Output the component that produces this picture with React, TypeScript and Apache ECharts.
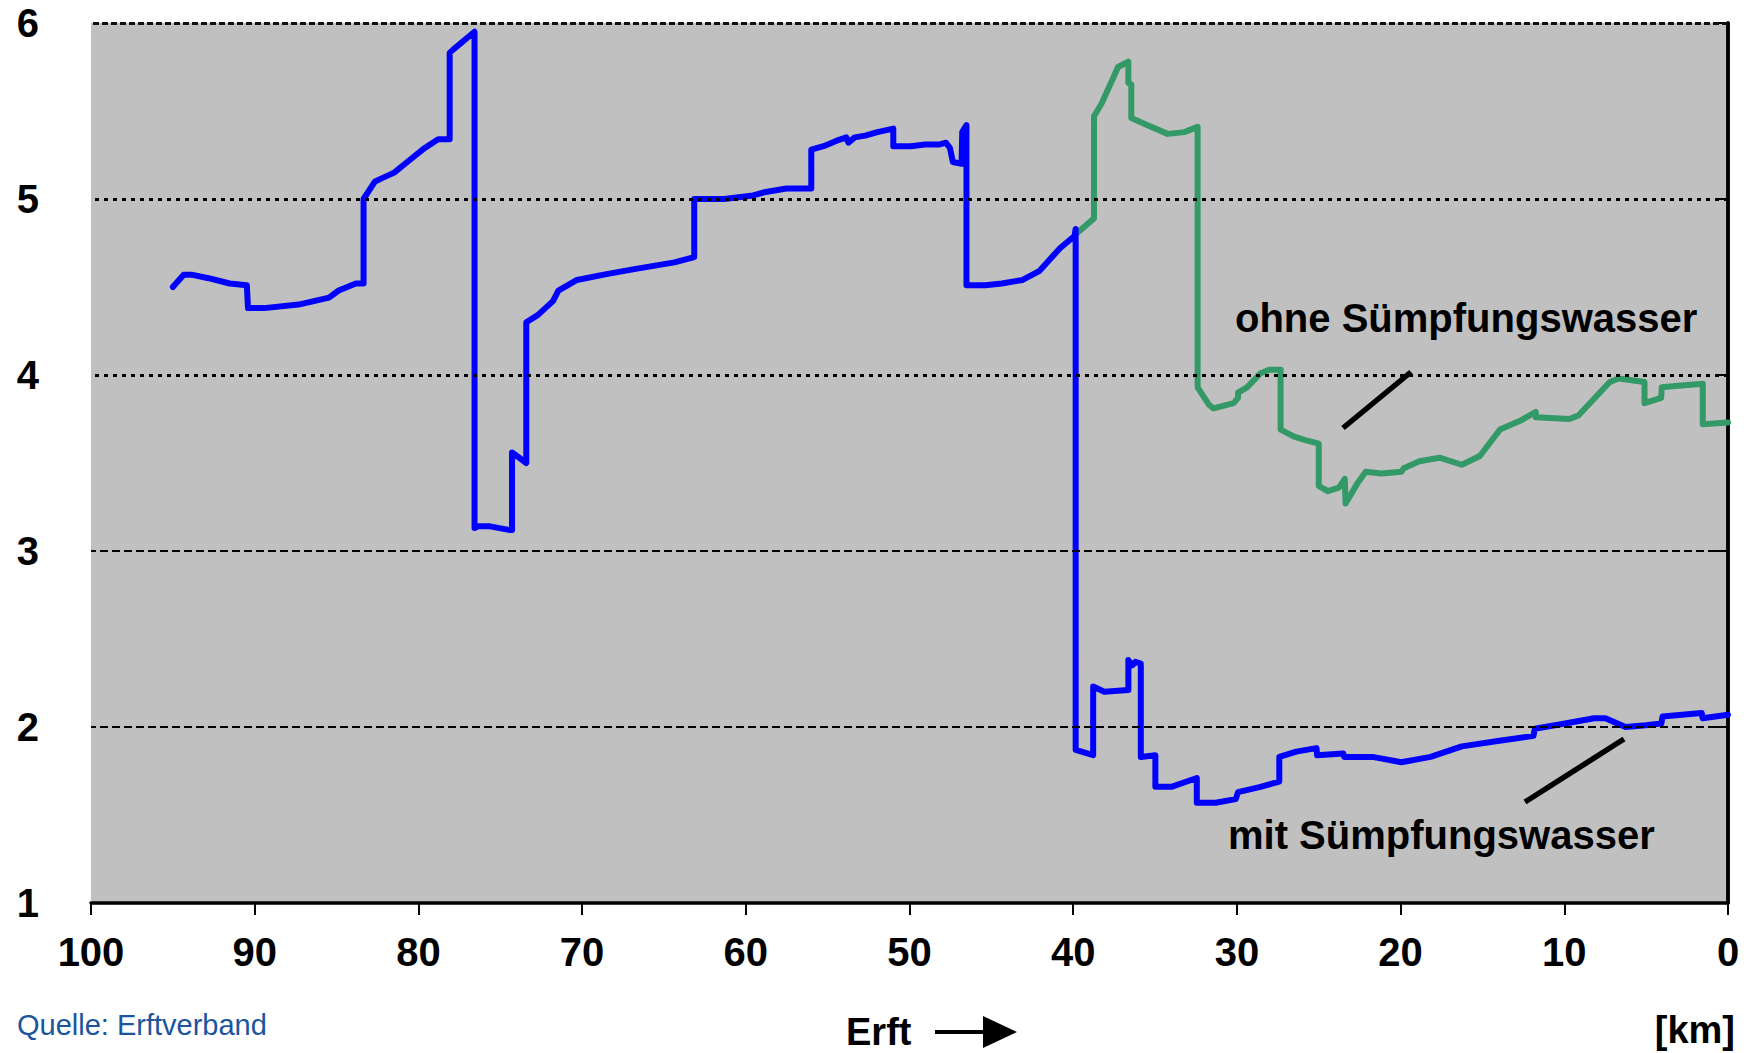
import React, { useEffect, useRef } from "react";
import * as echarts from "echarts";

// River kilometre (x) and water level / value (y) for each line
const BLUE_KM = [
  95.0, 94.34, 93.87, 92.82, 91.53, 90.48, 90.41, 89.43, 87.32, 85.46, 84.87, 83.82, 83.35, 83.35,
  82.65, 82.18, 81.48, 80.55, 79.61, 78.79, 78.09, 78.09, 77.86, 76.57, 76.57, 76.33, 75.63, 74.47,
  74.28, 74.28, 73.41, 73.41, 72.71, 72.36, 71.78, 71.45, 70.31, 68.67, 66.9, 65.63, 64.36, 63.15,
  63.15, 61.33, 59.55, 58.79, 57.52, 56.0, 56.0, 55.25, 54.49, 53.86, 53.73, 53.35, 52.71, 51.96,
  50.99, 50.99, 49.93, 49.04, 48.16, 47.77, 47.53, 47.35, 46.82, 46.78, 46.52, 46.52, 45.37, 44.36,
  43.09, 42.08, 40.81, 39.92, 39.85, 39.85, 38.78, 38.78, 38.1, 36.63, 36.63, 36.4, 36.2, 35.87,
  35.87, 34.98, 34.98, 34.0, 32.45, 32.45, 31.3, 30.07, 29.93, 28.56, 27.41, 27.41, 26.37, 25.14,
  25.1, 23.5, 23.45, 21.72, 19.95, 18.17, 16.26, 14.07, 11.88, 11.8, 9.96, 8.18, 7.49, 6.26, 5.03,
  4.07, 4.0, 1.61, 1.55, 0,
];
const BLUE_VAL = [
  4.5, 4.57, 4.57, 4.55, 4.52, 4.51, 4.38, 4.38, 4.4, 4.44, 4.48, 4.52, 4.52, 5.0,
  5.1, 5.12, 5.15, 5.22, 5.29, 5.34, 5.34, 5.83, 5.85, 5.95, 3.13, 3.14, 3.14, 3.12,
  3.12, 3.56, 3.5, 4.3, 4.34, 4.37, 4.42, 4.48, 4.54, 4.57, 4.6, 4.62, 4.64, 4.67,
  5.0, 5.0, 5.02, 5.04, 5.06, 5.06, 5.28, 5.3, 5.33, 5.35, 5.32, 5.35, 5.36, 5.38,
  5.4, 5.3, 5.3, 5.31, 5.31, 5.32, 5.29, 5.21, 5.2, 5.38, 5.42, 4.51, 4.51, 4.52,
  4.54, 4.59, 4.72, 4.79, 4.83, 1.87, 1.84, 2.23, 2.2, 2.21, 2.38, 2.35, 2.37, 2.36,
  1.83, 1.84, 1.66, 1.66, 1.71, 1.57, 1.57, 1.59, 1.63, 1.66, 1.69, 1.83, 1.86, 1.88,
  1.84, 1.85, 1.83, 1.83, 1.8, 1.83, 1.89, 1.92, 1.95, 1.99, 2.02, 2.05, 2.05, 2.0, 2.01,
  2.02, 2.06, 2.08, 2.05, 2.07,
];
const GREEN_KM = [
  39.85, 38.73, 38.73, 38.28, 37.64, 37.26, 36.63, 36.63, 36.45, 36.45, 35.49, 34.23, 33.21, 32.4,
  32.4, 31.7, 31.43, 30.2, 29.93, 29.93, 29.38, 28.56, 28.02, 27.33, 27.33, 26.5, 25.82, 25.0, 25.0,
  24.45, 23.77, 23.41, 23.36, 22.67, 22.13, 21.17, 19.95, 19.81, 18.85, 17.62, 16.26, 15.16, 13.93,
  12.7, 11.74, 11.74, 9.69, 9.14, 7.22, 6.68, 5.1, 5.1, 4.08, 4.05, 2.85, 1.54, 1.54, 0,
];
const GREEN_VAL = [
  4.8, 4.89, 5.47, 5.54, 5.67, 5.75, 5.78, 5.66, 5.65, 5.46, 5.42, 5.37, 5.38, 5.41,
  3.93, 3.83, 3.81, 3.84, 3.87, 3.9, 3.93, 4.01, 4.03, 4.03, 3.69, 3.65, 3.63, 3.61, 3.37,
  3.34, 3.36, 3.41, 3.27, 3.38, 3.45, 3.44, 3.45, 3.47, 3.51, 3.53, 3.49, 3.54, 3.69,
  3.74, 3.79, 3.76, 3.75, 3.77, 3.96, 3.98, 3.96, 3.84, 3.87, 3.93, 3.94, 3.95, 3.72, 3.73,
];

const DOTTED_GRID = [4, 5];
const DASHED_GRID = [2, 3];
const TOP_GRID = [6];

const LABEL_OHNE = "ohne Sümpfungswasser";
const LABEL_MIT = "mit Sümpfungswasser";
const SOURCE = "Quelle: Erftverband";
const RIVER = "Erft";
const UNIT = "[km]";

const FONT = "'Liberation Sans', Arial, sans-serif";

export default function App() {
  const ref = useRef<HTMLDivElement>(null);

  useEffect(() => {
    if (!ref.current) return;
    const chart = echarts.init(ref.current, undefined, { renderer: "svg" });

    const blue = BLUE_KM.map((k, i) => [k, BLUE_VAL[i]]);
    const green = GREEN_KM.map((k, i) => [k, GREEN_VAL[i]]);

    const gridLines = [
      ...DASHED_GRID.map((v) => ({ yAxis: v, lineStyle: { color: "#000", width: 2, type: [8, 4] } })),
      ...DOTTED_GRID.map((v) => ({ yAxis: v, lineStyle: { color: "#000", width: 3, type: [4, 5] } })),
      ...TOP_GRID.map((v) => ({ yAxis: v, lineStyle: { color: "#111", width: 3, type: [6, 3] } })),
    ];

    const labelStyle = {
      color: "#000",
      fontFamily: FONT,
      fontWeight: "bold" as const,
      fontSize: 40,
    };

    chart.setOption({
      animation: false,
      grid: {
        left: 91,
        right: 24,
        top: 23,
        bottom: 150,
        show: true,
        backgroundColor: "#c0c0c0",
        borderWidth: 0,
      },
      xAxis: {
        type: "value",
        min: 0,
        max: 100,
        interval: 10,
        inverse: true,
        axisLine: { show: true, lineStyle: { color: "#000", width: 3.5 } },
        axisTick: { show: true, length: 12, lineStyle: { color: "#000", width: 2 } },
        axisLabel: { ...labelStyle, margin: 29 },
        splitLine: { show: false },
      },
      yAxis: [
        {
          type: "value",
          min: 1,
          max: 6,
          interval: 1,
          axisLine: { show: true, lineStyle: { color: "#000", width: 3.5 } },
          axisTick: { show: true, length: 12, lineStyle: { color: "#000", width: 2 } },
          axisLabel: { ...labelStyle, margin: 52 },
          splitLine: { show: false },
        },
        {
          type: "value",
          min: 1,
          max: 6,
          interval: 1,
          position: "right",
          axisLine: { show: true, lineStyle: { color: "#000", width: 3.5 } },
          axisTick: { show: false },
          axisLabel: { show: false },
          splitLine: { show: false },
        },
      ],
      series: [
        {
          type: "line",
          data: [],
          z: 1,
          silent: true,
          markLine: {
            silent: true,
            symbol: "none",
            label: { show: false },
            data: gridLines,
          },
        },
        {
          type: "line",
          data: green,
          showSymbol: false,
          z: 2,
          lineStyle: { color: "#339966", width: 6, join: "round", cap: "round" },
          itemStyle: { color: "#339966" },
        },
        {
          type: "line",
          data: blue,
          showSymbol: false,
          z: 3,
          lineStyle: { color: "#0000ff", width: 6, join: "round", cap: "round" },
          itemStyle: { color: "#0000ff" },
        },
      ],
      graphic: [
        {
          type: "text",
          x: 1235,
          y: 318,
          style: {
            text: LABEL_OHNE,
            font: `bold 40px ${FONT}`,
            fill: "#000",
            verticalAlign: "middle",
          },
        },
        {
          type: "line",
          shape: { x1: 1343, y1: 428, x2: 1411, y2: 372 },
          style: { stroke: "#000", lineWidth: 5.5 },
        },
        {
          type: "text",
          x: 1228,
          y: 835,
          style: {
            text: LABEL_MIT,
            font: `bold 40px ${FONT}`,
            fill: "#000",
            verticalAlign: "middle",
          },
        },
        {
          type: "line",
          shape: { x1: 1525, y1: 802, x2: 1624, y2: 739 },
          style: { stroke: "#000", lineWidth: 5.5 },
        },
        {
          type: "text",
          x: 17,
          y: 1025,
          style: {
            text: SOURCE,
            font: `29px ${FONT}`,
            fill: "#1a559e",
            verticalAlign: "middle",
          },
        },
        {
          type: "text",
          x: 846,
          y: 1032,
          style: {
            text: RIVER,
            font: `bold 38px ${FONT}`,
            fill: "#000",
            verticalAlign: "middle",
          },
        },
        {
          type: "line",
          shape: { x1: 935, y1: 1032, x2: 990, y2: 1032 },
          style: { stroke: "#000", lineWidth: 4 },
        },
        {
          type: "polygon",
          shape: { points: [[983, 1016], [1017, 1032], [983, 1048]] },
          style: { fill: "#000" },
        },
        {
          type: "text",
          x: 1735,
          y: 1030,
          style: {
            text: UNIT,
            font: `bold 38px ${FONT}`,
            fill: "#000",
            align: "right",
            verticalAlign: "middle",
          },
        },
      ],
    });

    return () => chart.dispose();
  }, []);

  return (
    <div
      ref={ref}
      style={{ position: "absolute", left: 0, top: 0, width: 1752, height: 1053, background: "#fff" }}
    />
  );
}
